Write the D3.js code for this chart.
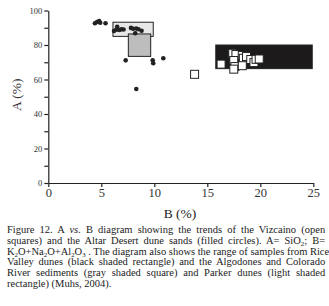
<!DOCTYPE html>
<html>
<head>
<meta charset="utf-8">
<script src="https://cdn.jsdelivr.net/npm/d3@7"></script>
<style>
html,body{margin:0;padding:0;background:#fff;}
svg{display:block;}
</style>
</head>
<body>
<svg id="chart" width="329" height="306"></svg>
<script>
// ---- data ----
const xTicks = [0, 5, 10, 15, 20, 25];
const yTicks = [0, 20, 40, 60, 80, 100];
const yMinorTicks = [10, 30, 50, 70, 90];

// Altar Desert dune sands (filled circles)
const altarB = [4.4, 4.6, 4.8, 4.9, 5.4, 6.2, 6.4, 6.5, 6.7, 6.9, 7.1, 7.8, 8.0, 8.2, 8.3, 8.5, 8.8, 7.3, 9.85, 9.9, 10.85, 8.3];
const altarA = [92.6, 93.3, 93.9, 92.9, 92.6, 88.1, 88.8, 90.6, 88.7, 89.1, 89.0, 89.9, 89.4, 86.8, 89.6, 89.1, 88.3, 71.1, 71.1, 69.4, 72.3, 54.5];

// Vizcaino dune sands (open squares)
const vizB = [13.8, 16.3, 17.4, 17.7, 17.5, 17.6, 17.5, 18.3, 18.4, 18.3, 18.7, 19.1, 19.4, 19.6, 19.9];
const vizA = [63.0, 68.9, 75.2, 74.5, 71.0, 67.5, 66.0, 73.9, 72.3, 68.0, 73.3, 71.6, 69.8, 71.7, 71.9];

// Ranges (Muhs, 2004): [B min, B max, A min, A max]
const parkerRange = [6.1, 9.9, 85.0, 93.2];
const algodonesRange = [7.55, 9.66, 73.4, 86.4];
const riceValleyRange = [15.8, 24.9, 66.3, 80.0];

const captionLines = [
  "Figure 12. A <i>vs.</i> B diagram showing the trends of the Vizcaino (open",
  "squares) and the Altar Desert dune sands (filled circles). A= SiO<sub>2</sub>; B=",
  "K<sub>2</sub>O+Na<sub>2</sub>O+Al<sub>2</sub>O<sub>3</sub> . The diagram also shows the range of samples from Rice",
  "Valley dunes (black shaded rectangle) and the Algodones and Colorado",
  "River sediments (gray shaded square) and Parker dunes (light shaded",
  "rectangle) (Muhs, 2004)."
];

// ---- drawing ----
const svg = d3.select("#chart");
const serif = "Liberation Serif";

const x = d3.scaleLinear().domain([0, 25]).range([48.3, 313.3]);
const y = d3.scaleLinear().domain([0, 100]).range([183, 10.5]);

// y axis
const yAxis = svg.append("g").attr("transform", `translate(${x(0)},0)`)
  .call(d3.axisLeft(y).tickValues(yTicks).tickSize(4).tickSizeOuter(0).tickPadding(2));
yAxis.selectAll("text").style("font-family", serif).attr("font-size", 8.5).attr("fill", "#333");
svg.append("g").attr("transform", `translate(${x(0)},0)`)
  .call(d3.axisLeft(y).tickValues(yMinorTicks).tickSize(4).tickSizeOuter(0).tickFormat(""))
  .select(".domain").remove();

// x axis
const xAxis = svg.append("g").attr("transform", `translate(0,${y(0)})`)
  .call(d3.axisBottom(x).tickValues(xTicks).tickSize(4).tickSizeOuter(0).tickPadding(1));
xAxis.selectAll("text").style("font-family", serif).attr("font-size", 12.5).attr("fill", "#333");

svg.selectAll(".domain, .tick line").attr("stroke", "#222").attr("stroke-width", 1.2);

// axis labels
svg.append("text")
  .attr("transform", `translate(21,${y(50) - 2}) rotate(-90)`)
  .attr("text-anchor", "middle")
  .style("font-family", serif).attr("font-size", 13.5).attr("fill", "#333")
  .text("A (%)");
svg.append("text")
  .attr("x", 180).attr("y", 218)
  .attr("text-anchor", "middle")
  .style("font-family", serif).attr("font-size", 13.5).attr("fill", "#222")
  .text("B (%)");

// range rectangles
function rangeRect(r, fill) {
  svg.append("rect")
    .attr("x", x(r[0])).attr("y", y(r[3]))
    .attr("width", x(r[1]) - x(r[0])).attr("height", y(r[2]) - y(r[3]))
    .attr("fill", fill).attr("stroke", "#222").attr("stroke-width", 1);
}
rangeRect(parkerRange, "#e8e8e8");
rangeRect(algodonesRange, "#bdbdbd");
rangeRect(riceValleyRange, "#1c1a1a");

// filled circles
svg.append("g").selectAll("circle")
  .data(d3.zip(altarB, altarA))
  .join("circle")
  .attr("cx", d => x(d[0])).attr("cy", d => y(d[1]))
  .attr("r", 2.3).attr("fill", "#222");

// open squares
const s = 8;
svg.append("g").selectAll("rect")
  .data(d3.zip(vizB, vizA))
  .join("rect")
  .attr("x", d => x(d[0]) - s / 2).attr("y", d => y(d[1]) - s / 2)
  .attr("width", s).attr("height", s)
  .attr("fill", "#fff").attr("stroke", "#222").attr("stroke-width", 1);

// caption (justified lines, slightly stretched like the scanned figure)
const fo = svg.append("foreignObject").attr("x", 7).attr("y", 225).attr("width", 322).attr("height", 80);
const div = fo.append("xhtml:div")
  .style("font-family", serif).style("font-size", "10px").style("line-height", "10.8px")
  .style("color", "#222").style("width", "303px")
  .style("transform", "scaleX(1.05)").style("transform-origin", "0 0");
captionLines.forEach((ln, i) => {
  div.append("xhtml:div")
    .style("text-align", "justify")
    .style("text-align-last", i === captionLines.length - 1 ? "left" : "justify")
    .style("white-space", "nowrap")
    .html(ln);
});
div.selectAll("sub").style("font-size", "6.5px").style("vertical-align", "-1.5px").style("line-height", "0");
</script>
</body>
</html>
